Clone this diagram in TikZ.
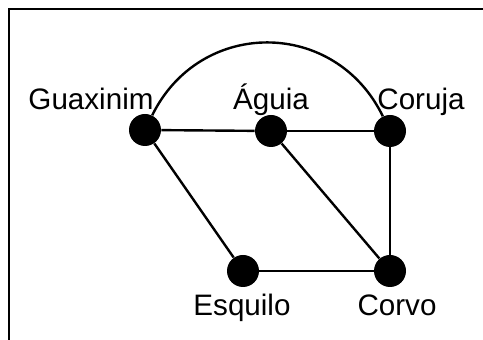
\documentclass[tikz,border=0pt]{standalone}
\usepackage{fontspec}
\setmainfont{Liberation Sans}
\usepackage{tikz}
\usetikzlibrary{positioning}

\begin{document}
\begin{tikzpicture}[
    x=0.5pt, y=-0.5pt,
    animal/.style={circle, fill=black, inner sep=0pt, minimum size=16pt},
    nome/.style={anchor=base, inner sep=0pt, font=\fontsize{14.8}{17}\selectfont},
    aresta/.style={line width=1.2pt}
  ]
    \useasboundingbox (0,0) rectangle (483,340);
    % moldura
    \draw[line width=0.7pt] (483,9) -- (9,9) -- (9,340);

    % nodes
    \node[animal] (gua) at (145,130) {};
    \node[animal] (agu) at (271,131) {};
    \node[animal] (cor) at (390,131) {};
    \node[animal] (esq) at (243,271) {};
    \node[animal] (cvo) at (390,271) {};

    % names
    \node[nome] (tgua) at (91,110) {Guaxinim};
    \node[nome] (tagu) at (271,110) {Águia};
    \node[nome] (tcor) at (421,110) {Coruja};
    \node[nome] (tesq) at (242,316) {Esquilo};
    \node[nome] (tcvo) at (397,316) {Corvo};

    % edges
    \draw[aresta] (gua) -- (agu);
    \draw[aresta] (agu) -- (cor);
    \draw[aresta] (gua) -- (esq);
    \draw[aresta] (esq) -- (cvo);
    \draw[aresta] (agu) -- (cvo);
    \draw[aresta] (cor) -- (cvo);
    \draw[aresta] (gua) .. controls (200,18) and (335,18) .. (cor);
  \end{tikzpicture}
\end{document}
